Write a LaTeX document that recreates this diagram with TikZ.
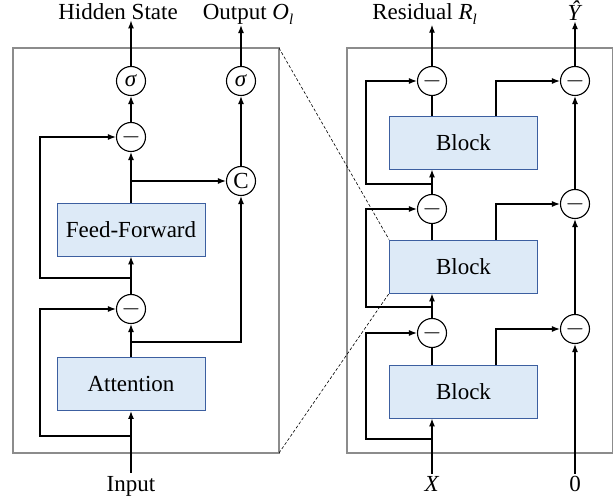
\documentclass[tikz,border=0pt]{standalone}
\usepackage{fontspec}
\setmainfont{Liberation Serif}
\usetikzlibrary{arrows.meta}

\definecolor{blockfill}{RGB}{221,234,247}
\definecolor{blockedge}{RGB}{60,95,160}
\definecolor{panelgray}{RGB}{140,140,140}

\newcommand{\subl}{\raisebox{-4.5pt}{\fontsize{15}{15}\selectfont\itshape l}}

\tikzset{
  panel/.style={draw=panelgray, line width=1.8pt},
  blockbox/.style={draw=blockedge, fill=blockfill, line width=0.9pt,
    minimum width=148pt, minimum height=53pt, inner sep=0pt},
  op/.style={circle, draw, line width=1.1pt, minimum size=29pt, inner sep=0pt},
  lbl/.style={inner sep=0pt, anchor=base},
  link/.style={line width=1.2pt, -{Latex[length=8pt,width=6pt]}},
  plain/.style={line width=1.2pt},
  zoomline/.style={dashed, line width=0.6pt, dash pattern=on 3pt off 2pt},
}

\begin{document}
\begin{tikzpicture}[x=1pt, y=-1pt, font=\fontsize{23}{27}\selectfont]
    \useasboundingbox (0,0) rectangle (614,497);

    % Left panel: one block
    \draw[panel] (13,48) rectangle (279,453);
    \node[op] (sigL) at (131,81) {\textit{σ}};
    \node[op] (sigR) at (241,81) {\textit{σ}};
    \node[op] (subT) at (131,137) {$-$};
    \node[op] (cat) at (241,181) {C};
    \node[blockbox] (ff) at (131,229.5) {Feed-Forward};
    \node[op] (subB) at (131,309) {$-$};
    \node[blockbox] (attn) at (131,384) {Attention};

    \node[lbl] (inp) at (131,491) {Input};
    \node[lbl] (hid) at (118,20) {Hidden State};
    \node[lbl] (outl) at (248,20) {Output \textit{O}\subl};

    % Branch points
    \coordinate (laneL) at (40,0);
    \coordinate (brIn) at (131,436);
    \coordinate (brAttn) at (131,342);
    \coordinate (brSub) at (131,278);
    \coordinate (brFF) at (131,181);

    \draw[link, shorten <=3pt] (inp.north) -- (attn.south);
    \draw[link] (brIn) -- (brIn -| laneL) |- (subB);
    \draw[link] (attn.north) -- (subB.south);
    \draw[link] (brAttn) -| (cat.south);
    \draw[link] (subB.north) -- (ff.south);
    \draw[link] (brSub) -- (brSub -| laneL) |- (subT);
    \draw[link] (ff.north) -- (subT.south);
    \draw[link] (brFF) -- (cat.west);
    \draw[link] (subT.north) -- (sigL.south);
    \draw[link] (cat.north) -- (sigR.south);
    \draw[link] (sigL.north) -- (sigL |- hid.south);
    \draw[link] (sigR.north) -- (sigR |- outl.south);

    % Right panel: stacked blocks
    \draw[panel] (347,48) rectangle (612.5,453);
    \node[blockbox] (blkC) at (463.5,142.5) {Block};
    \node[blockbox] (blkB) at (463.5,266.5) {Block};
    \node[blockbox] (blkA) at (463.5,391.5) {Block};
    \node[op] (resC) at (432,81) {$-$};
    \node[op] (resB) at (432,209) {$-$};
    \node[op] (resA) at (432,333) {$-$};
    \node[op] (accC) at (575,81) {$-$};
    \node[op] (accB) at (575,204) {$-$};
    \node[op] (accA) at (575,329) {$-$};

    \node[lbl] (xin) at (432,492) {\textit{X}};
    \node[lbl] (zero) at (575,492) {0};
    \node[lbl] (resl) at (424.5,20) {Residual \textit{R}\subl};
    \node[lbl] (yhat) at (575,21) {\textit{Ŷ}};

    \coordinate (laneR) at (366,0);
    \coordinate (laneB) at (496,0);
    \coordinate (brX) at (432,439);
    \coordinate (brA) at (432,307);
    \coordinate (brB) at (432,184);

    % residual path
    \draw[link, shorten <=3pt] (xin.north) -- (blkA.south -| xin);
    \draw[link] (brX) -- (brX -| laneR) |- (resA);
    \draw[plain] (blkA.north -| resA) -- (resA.south);
    \draw[link] (resA.north) -- (blkB.south -| resA);
    \draw[link] (brA) -- (brA -| laneR) |- (resB);
    \draw[plain] (blkB.north -| resB) -- (resB.south);
    \draw[link] (resB.north) -- (blkC.south -| resB);
    \draw[link] (brB) -- (brB -| laneR) |- (resC);
    \draw[plain] (blkC.north -| resC) -- (resC.south);
    \draw[link] (resC.north) -- (resC |- resl.south);

    % output path
    \draw[link] (blkA.north -| laneB) |- (accA);
    \draw[link] (blkB.north -| laneB) |- (accB);
    \draw[link] (blkC.north -| laneB) |- (accC);
    \draw[link, shorten <=3pt] (zero.north) -- (accA.south);
    \draw[link] (accA.north) -- (accB.south);
    \draw[link] (accB.north) -- (accC.south);
    \draw[link] (accC.north) -- (accC |- yhat.south);

    % zoom lines
    \draw[zoomline] (279,48) -- (blkB.north west);
    \draw[zoomline] (279,453) -- (blkB.south west);
\end{tikzpicture}
\end{document}
